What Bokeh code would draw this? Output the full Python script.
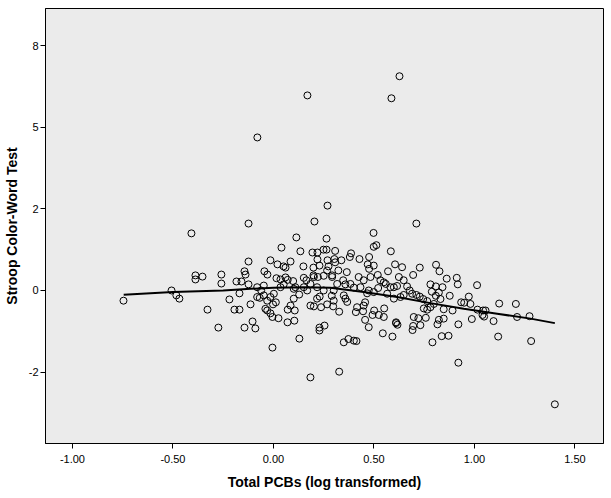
from bokeh.plotting import figure
from bokeh.models import FixedTicker, NumeralTickFormatter, Range1d
from bokeh.embed import file_html
from bokeh.resources import INLINE

# Outliers and left part of the cloud (Total PCBs log, Stroop score in axis units)
pcb_a = [0.627, 0.587, 0.169, -0.080, 0.269, 0.204, -0.124, 0.711, -0.408, 0.114, 0.264, 0.498,
         0.499, 0.512, 0.584, 0.040, 0.134, 0.194, 0.219, 0.249, 0.264, -0.124, -0.015, 0.020,
         0.085, 0.219, 0.269, 0.050, 0.060, 0.149, 0.199, 0.229, 0.274, -0.144, -0.139, -0.045,
         -0.030, -0.388, -0.353, -0.388, -0.259, -0.259, -0.184, -0.159, -0.124, -0.507, -0.483,
         -0.468, -0.746, -0.169, -0.219, -0.114, -0.328, -0.194, -0.169, -0.274, -0.144, -0.104,
         -0.090, 0.070, 0.104, 0.129, 0.229, 0.229, 0.254, -0.005, 0.184]
stroop_a = [5.25, 4.71, 4.78, 3.75, 2.08, 1.69, 1.64, 1.64, 1.40, 1.30, 1.27, 1.41,
            1.07, 1.11, 0.96, 1.05, 0.96, 0.93, 0.93, 1.00, 1.00, 0.71, 0.74, 0.64,
            0.71, 0.76, 0.74, 0.59, 0.56, 0.59, 0.56, 0.61, 0.59, 0.47, 0.39, 0.47,
            0.39, 0.37, 0.34, 0.27, 0.39, 0.17, 0.22, 0.22, 0.15, 0.00, -0.12,
            -0.20, -0.25, -0.07, -0.22, -0.34, -0.47, -0.47, -0.47, -0.91, -0.91, -0.76,
            -0.93, -0.78, -0.74, -1.18, -0.91, -0.98, -0.86, -1.40, -2.13]

# Dense centre of the cloud
pcb_b = [0.015, 0.035, 0.060, 0.071, 0.098, 0.151, 0.164, 0.201, 0.221, 0.250, -0.081, -0.061,
         -0.048, -0.068, -0.031, -0.015, 0.002, -0.002, 0.012, 0.101, 0.128, 0.085, 0.071, 0.106,
         0.168, 0.184, 0.201, 0.217, 0.230, 0.237, 0.267, -0.031, -0.015, -0.005, 0.025, -0.040,
         -0.048, 0.035, 0.051, 0.109, 0.184, 0.217, 0.250, -0.081, 0.101, 0.151]
stroop_b = [0.30, 0.27, 0.32, 0.26, 0.23, 0.31, 0.25, 0.33, 0.33, 0.36, 0.08, 0.00,
            -0.12, -0.18, -0.25, -0.16, -0.08, -0.34, -0.29, -0.20, -0.10, -0.37, -0.47, -0.49,
            0.00, -0.37, -0.39, -0.20, -0.15, -0.41, -0.34, -0.49, -0.56, -0.65, -0.68, -0.45,
            0.12, 0.08, 0.15, 0.08, 0.16, 0.08, 0.00, -0.16, 0.04, 0.08]

# Right part of the cloud
pcb_c = [0.307, 0.386, 0.380, 0.338, 0.303, 0.307, 0.428, 0.476, 0.469, 0.499, 0.476, 0.605,
         0.640, 0.570, 0.519, 0.728, 0.695, 0.809, 0.826, 0.862, 0.912, 0.917, 1.013, 0.323,
         0.365, 0.781, 0.808, 0.841, 0.823, 0.788, 0.972, 0.934, 0.949, 0.980, 1.015, 1.043,
         1.055, 1.048, 1.040, 1.123, 1.206, 1.274, 1.212, 1.095, 1.118, 1.282, 1.400, 0.920,
         0.327, 0.350, 0.373, 0.400, 0.413, 0.544, 0.592, 0.791, 0.837, 0.871, 0.474, 0.456,
         0.493, 0.524, 0.549, 0.501, 0.551, 0.610, 0.617, 0.610, 0.692, 0.695, 0.731, 0.698,
         0.721, 0.758, 0.816, 0.823, 0.847, 0.920, 0.987, 0.327, 0.416, 0.449, 0.410, 0.446,
         0.456, 0.466, 0.521, 0.549, 0.559, 0.599, 0.615, 0.566, 0.599, 0.632, 0.648, 0.678,
         0.690, 0.711, 0.728, 0.745, 0.765, 0.748, 0.765, 0.781, 0.798, 0.808, 0.831, 0.847,
         0.877, 0.891, 0.499, 0.474, 0.433, 0.400, 0.383, 0.358, 0.347, 0.317, 0.300, 0.292,
         0.290, 0.300, 0.350, 0.358, 0.367, 0.297, 0.483, 0.449, 0.424, 0.532, 0.582, 0.665,
         0.624, 0.648, 0.292, 0.267, 0.199]
stroop_c = [0.97, 0.91, 0.82, 0.74, 0.77, 0.69, 0.77, 0.82, 0.64, 0.61, 0.53, 0.64,
            0.57, 0.47, 0.38, 0.56, 0.38, 0.63, 0.47, 0.29, 0.31, 0.15, 0.13, 0.49,
            0.45, 0.15, 0.10, 0.08, -0.05, -0.03, -0.15, -0.29, -0.30, -0.33, -0.47, -0.49,
            -0.49, -0.64, -0.60, -0.32, -0.33, -0.63, -0.65, -0.75, -1.13, -1.24, -2.79, -1.77,
            -1.99, -1.27, -1.19, -1.23, -1.24, -1.05, -1.13, -1.27, -1.12, -1.11, -0.90, -0.72,
            -0.60, -0.60, -0.65, -0.49, -0.44, -0.80, -0.84, -0.78, -0.97, -0.87, -0.85, -0.65,
            -0.68, -0.67, -0.83, -0.72, -0.69, -0.83, -0.70, -0.52, -0.41, -0.37, -0.53, -0.51,
            -0.29, -0.07, 0.06, 0.20, 0.16, 0.08, 0.11, -0.08, -0.20, -0.16, -0.11, 0.00,
            -0.08, -0.11, -0.15, -0.21, -0.26, -0.44, -0.47, -0.41, -0.33, -0.13, -0.21, -0.46,
            -0.13, -0.49, -0.04, 0.00, 0.08, 0.07, 0.16, 0.15, 0.25, 0.16, 0.00, 0.33,
            -0.13, -0.25, -0.12, -0.20, -0.28, -0.39, 0.33, 0.25, 0.33, 0.25, 0.08, 0.10,
            0.33, 0.25, 0.37, 0.49, 0.37]

# Loess fit line
fit_x = [-0.745, -0.5, -0.25, -0.114, 0.0, 0.15, 0.284, 0.449, 0.615, 0.781, 0.947, 1.113, 1.279, 1.40]
fit_y = [-0.105, -0.04, 0.0, 0.04, 0.066, 0.08, 0.066, -0.04, -0.16, -0.31, -0.45, -0.57, -0.69, -0.80]

# Axis ticks
x_ticks = [-1.0, -0.5, 0.0, 0.5, 1.0, 1.5]
y_tick_pos = [-2, 0, 2, 4, 6]
y_tick_labels = ["-2", "0", "2", "5", "8"]

FONT = "Liberation Sans"

p = figure(width=605, height=496, output_backend="svg", toolbar_location=None,
           x_range=Range1d(-1.134, 1.642), y_range=Range1d(-3.75, 6.91),
           min_border_left=37, min_border_right=2, min_border_top=8, min_border_bottom=53,
           background_fill_color="white", border_fill_color="white")
p.background_fill_color = "#ebebeb"
p.outline_line_color = "black"
p.outline_line_width = 1
p.grid.visible = False

p.line(fit_x, fit_y, line_color="black", line_width=2)
pcb_all = pcb_a + pcb_b + pcb_c
stroop_all = stroop_a + stroop_b + stroop_c
p.scatter(pcb_all, stroop_all, size=7, fill_color=None, line_color="black", line_width=1)

p.xaxis.ticker = FixedTicker(ticks=x_ticks)
p.xaxis.formatter = NumeralTickFormatter(format="0.00")
p.yaxis.ticker = FixedTicker(ticks=y_tick_pos)
p.yaxis.major_label_overrides = {pos: lab for pos, lab in zip(y_tick_pos, y_tick_labels)}

for ax in (p.xaxis[0], p.yaxis[0]):
    ax.axis_line_color = "black"
    ax.major_tick_line_color = "black"
    ax.major_tick_out = 5
    ax.major_tick_in = 0
    ax.minor_tick_line_color = None
    ax.major_label_text_font = FONT
    ax.major_label_text_font_size = "11px"
    ax.major_label_text_color = "black"
    ax.axis_label_text_font = FONT
    ax.axis_label_text_font_size = "14px"
    ax.axis_label_text_font_style = "bold"
    ax.axis_label_text_color = "black"

p.xaxis.axis_label = "Total PCBs (log transformed)"
p.yaxis.axis_label = "Stroop Color-Word Test"
p.xaxis.major_label_standoff = 6
p.xaxis.axis_label_standoff = 8
p.yaxis.major_label_standoff = 2
p.yaxis.axis_label_standoff = 6

open("out.html", "w").write(file_html(p, INLINE))
